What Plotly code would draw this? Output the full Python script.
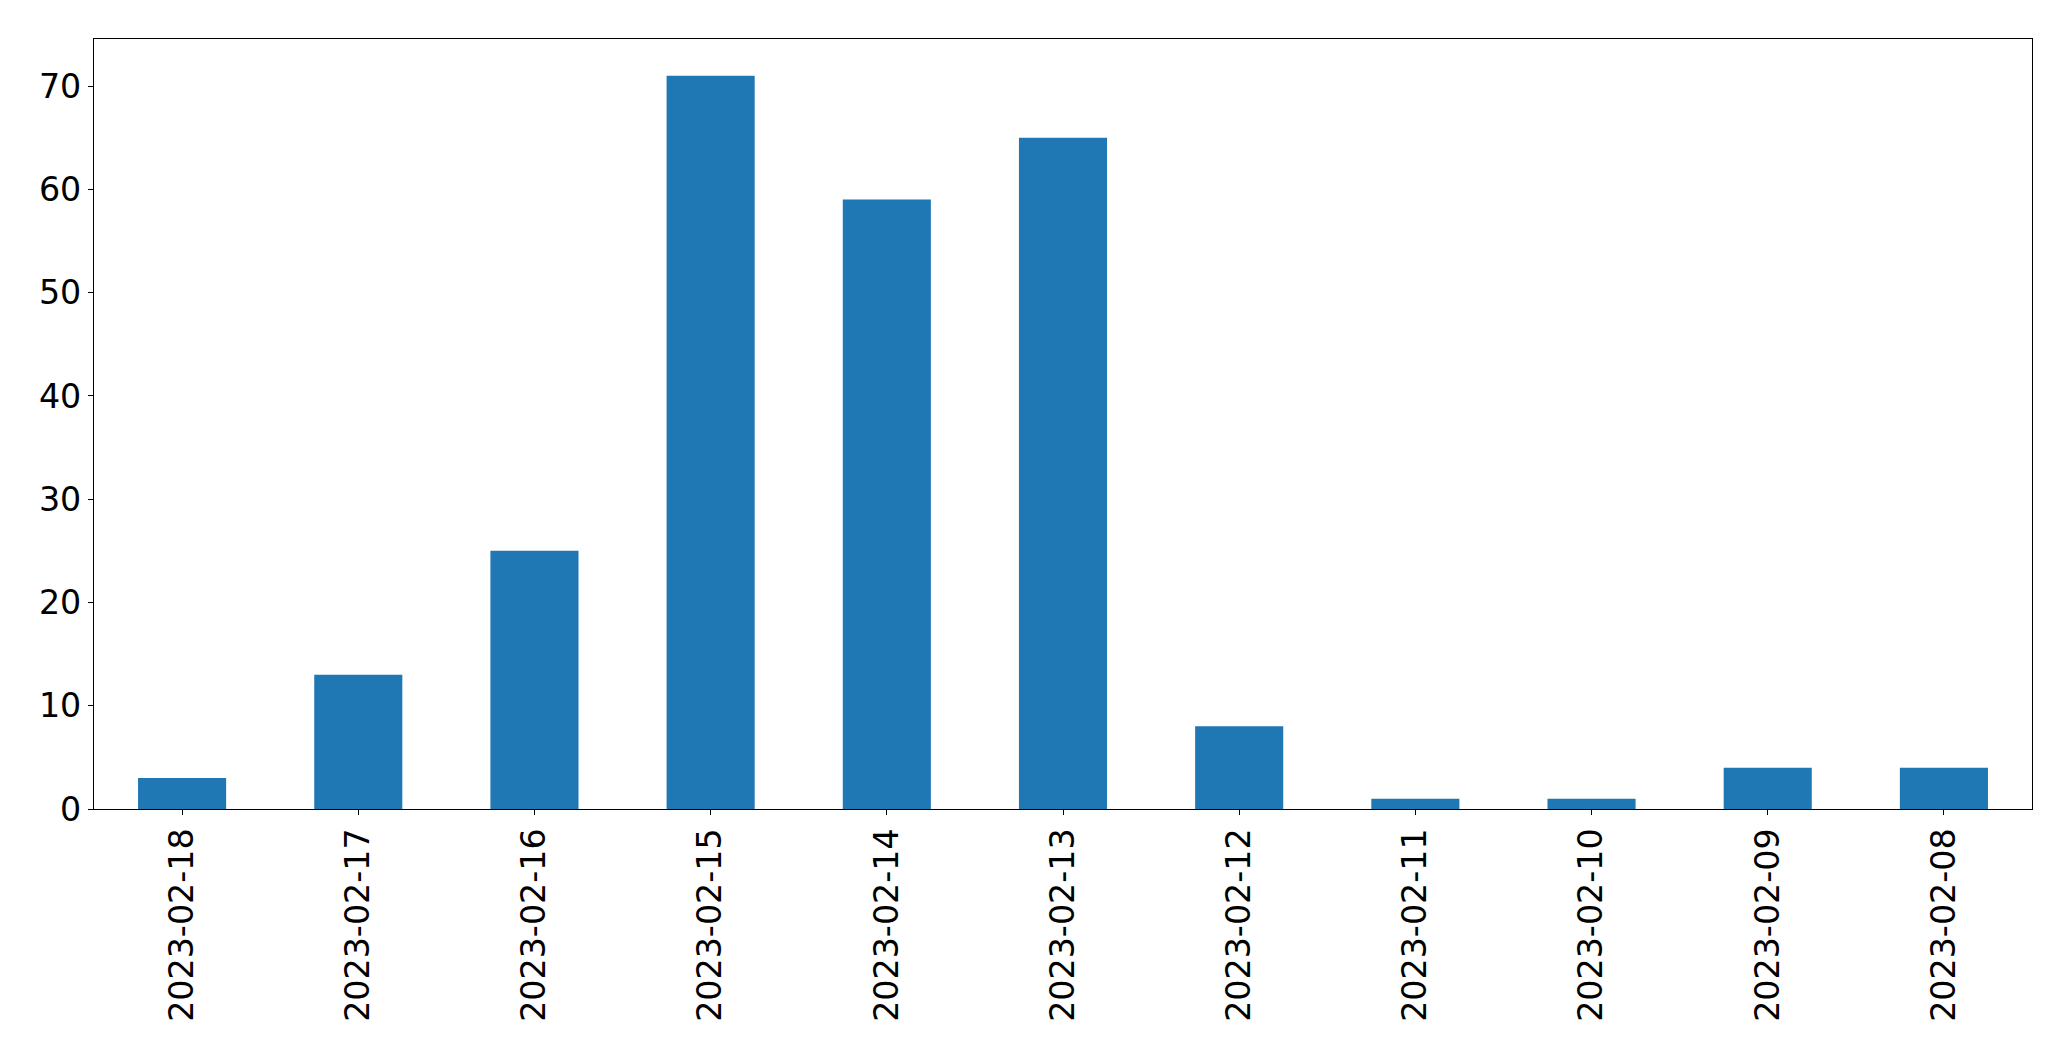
import plotly.graph_objects as go

dates = ["2023-02-18", "2023-02-17", "2023-02-16", "2023-02-15", "2023-02-14", "2023-02-13",
         "2023-02-12", "2023-02-11", "2023-02-10", "2023-02-09", "2023-02-08"]
counts = [3, 13, 25, 71, 59, 65, 8, 1, 1, 4, 4]
y_ticks = [0, 10, 20, 30, 40, 50, 60, 70]

fig = go.Figure(go.Bar(x=dates, y=counts, marker=dict(color="#1f77b4", line=dict(width=0)), width=0.5))

font = dict(family="DejaVu Sans", size=33.3, color="black")
fig.update_layout(
    width=2055, height=1045,
    margin=dict(l=86, r=31, t=31, b=244, pad=0),
    plot_bgcolor="white", paper_bgcolor="white",
    showlegend=False,
    font=font,
)
fig.update_xaxes(
    type="category", range=[-0.5, len(dates) - 0.5],
    tickangle=-90, ticks="outside", ticklen=5, tickwidth=1.1, tickcolor="black",
    showline=True, linecolor="black", linewidth=1.1, mirror=True,
    showgrid=False, zeroline=False, tickfont=font,
)
fig.update_yaxes(
    range=[0, 74.55], tickvals=y_ticks, ticks="outside", ticklen=5, tickwidth=1.1, tickcolor="black",
    showline=True, linecolor="black", linewidth=1.1, mirror=True,
    showgrid=False, zeroline=False, tickfont=font,
)
fig.write_html("out.html")
